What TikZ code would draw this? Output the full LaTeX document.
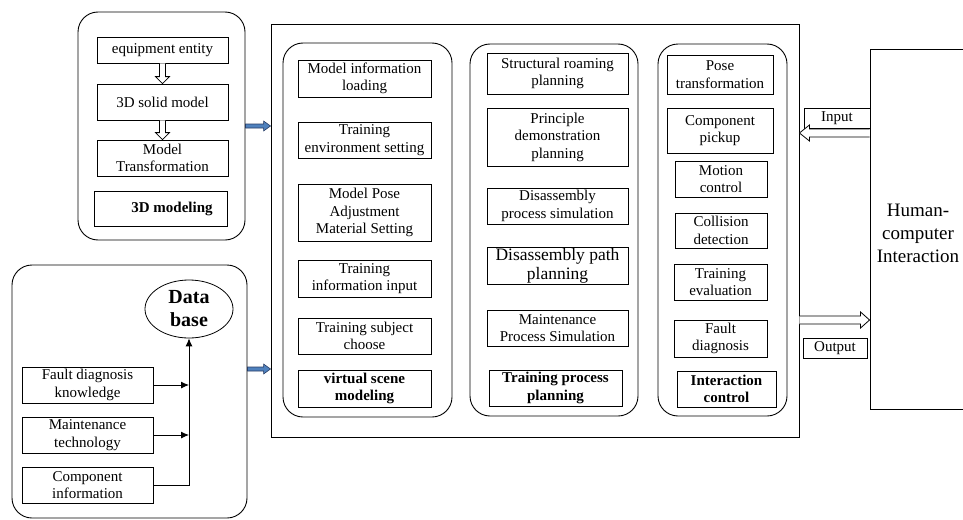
\documentclass[tikz,border=0pt]{standalone}
\usepackage{fontspec}
\setmainfont{Liberation Serif}
\usetikzlibrary{calc,arrows.meta,shapes.geometric}
\definecolor{myblue}{RGB}{79,129,189}
\definecolor{bluedark}{RGB}{40,60,100}
\begin{document}
\begin{tikzpicture}[x=1pt,y=-1pt,
 box/.style={draw, line width=0.8pt, fill=white, align=center, inner sep=1pt, font=\fontsize{15}{17.5}\selectfont},
 bbox/.style={box, font=\bfseries\fontsize{15}{17.5}\selectfont},
 grp/.style={draw, line width=0.9pt, rounded corners=20pt},
 hollow/.style={draw, line width=0.8pt, fill=white, line join=miter},
 bluearr/.style={draw=bluedark, fill=myblue, line width=0.6pt},
 conn/.style={line width=0.9pt, -{Latex[length=8pt,width=7pt]}}]
\clip (0,0) rectangle (963,519);
\fill[white] (0,0) rectangle (963,519);

% ---- top-left group: 3D modeling
\node[grp, minimum width=167pt, minimum height=228pt] (g1) at (161.5,126) {};
\node[box, minimum width=131pt, minimum height=26pt] (ent) at (162.5,50) {equipment entity};
\node[box, minimum width=131pt, minimum height=36pt] (solid) at (162.5,102) {3D solid model};
\node[box, minimum width=131pt, minimum height=36pt] (trans) at (162.5,158) {Model\\Transformation};
\node[bbox, minimum width=133pt, minimum height=35pt] (mod3d) at (160.5,208.5) {\hspace*{23pt}3D modeling};

\draw[hollow] ($(ent.south)+(-3,0)$) -- ($(solid.north)+(-3,-7)$) -- ($(solid.north)+(-7,-7)$) -- (solid.north) -- ($(solid.north)+(7,-7)$) -- ($(solid.north)+(3,-7)$) -- ($(ent.south)+(3,0)$);
\draw[hollow] ($(solid.south)+(-3,0)$) -- ($(trans.north)+(-3,-7)$) -- ($(trans.north)+(-7,-7)$) -- (trans.north) -- ($(trans.north)+(7,-7)$) -- ($(trans.north)+(3,-7)$) -- ($(solid.south)+(3,0)$);

% ---- bottom-left group: database
\node[grp, minimum width=235pt, minimum height=253pt] (g2) at (129.5,391.5) {};
\node[draw, line width=0.8pt, ellipse, minimum width=88pt, minimum height=58pt, inner sep=0pt, align=center, font=\bfseries\fontsize{20}{23}\selectfont] (db) at (189,309) {Data\\base};
\node[box, minimum width=131pt, minimum height=36pt] (fdk) at (87.5,385) {Fault diagnosis\\knowledge};
\node[box, minimum width=131pt, minimum height=36pt] (mt) at (87.5,435) {Maintenance\\technology};
\node[box, minimum width=131pt, minimum height=36pt] (ci) at (87.5,485) {Component\\information};
\coordinate (jx) at (189,0);
\draw[conn] (fdk.east) -- (fdk.east -| jx);
\draw[conn] (mt.east) -- (mt.east -| jx);
\draw[conn] (ci.east) -| (db.south);

% ---- main box
\node[draw, line width=0.9pt, minimum width=528pt, minimum height=413pt] (main) at (535,230.5) {};

% column 1
\node[grp, minimum width=169pt, minimum height=374pt] (c1) at (367.5,230) {};
\node[box, minimum width=133pt, minimum height=37pt] (mil) at (364.5,78.5) {Model information\\loading};
\node[box, minimum width=133pt, minimum height=36pt] (tes) at (364.5,140) {Training\\environment setting};
\node[box, minimum width=133pt, minimum height=57pt] (mpa) at (364.5,212.5) {Model Pose\\Adjustment\\Material Setting};
\node[box, minimum width=133pt, minimum height=37pt] (tii) at (364.5,278.5) {Training\\information input};
\node[box, minimum width=133pt, minimum height=36pt] (tsc) at (364.5,336) {Training subject\\choose};
\node[bbox, minimum width=133pt, minimum height=37pt] (vsm) at (364.5,388.5) {virtual scene\\modeling};

% column 2
\node[grp, minimum width=168pt, minimum height=372pt] (c2) at (554,230) {};
\node[box, minimum width=141pt, minimum height=41pt] (srp) at (557.5,73.5) {Structural roaming\\planning};
\node[box, minimum width=141pt, minimum height=58pt] (pdp) at (557.5,137) {Principle\\demonstration\\planning};
\node[box, minimum width=141pt, minimum height=36pt] (dps) at (557.5,206) {Disassembly\\process simulation};
\node[box, minimum width=141pt, minimum height=37pt, font=\fontsize{17.5}{19}\selectfont] (dpp) at (557.5,265.5) {Disassembly path\\planning};
\node[box, minimum width=141pt, minimum height=36pt] (mps) at (557.5,328) {Maintenance\\Process Simulation};
\node[bbox, minimum width=133pt, minimum height=36pt] (tpp) at (555.5,388) {Training process\\planning};

% column 3
\node[grp, minimum width=129pt, minimum height=372pt] (c3) at (722.5,230) {};
\node[box, minimum width=106pt, minimum height=39pt] (pt) at (720,74.5) {Pose\\transformation};
\node[box, minimum width=106pt, minimum height=45pt] (cp) at (720,130.5) {Component\\pickup};
\node[box, minimum width=92pt, minimum height=36pt] (mc) at (721,179) {Motion\\control};
\node[box, minimum width=92pt, minimum height=35pt] (cd) at (721,230.5) {Collision\\detection};
\node[box, minimum width=93pt, minimum height=36pt] (te) at (720.5,282) {Training\\evaluation};
\node[box, minimum width=93pt, minimum height=37pt] (fd) at (720.5,338.5) {Fault\\diagnosis};
\node[bbox, minimum width=99pt, minimum height=36pt] (ic) at (726.5,389) {Interaction\\control};

% ---- Human-computer interaction
\node[draw, line width=0.9pt, minimum width=110pt, minimum height=360pt] (hci) at (925,229) {};
\node[align=center, inner sep=0pt, font=\fontsize{19}{23}\selectfont] (hcit) at (918,233) {Human-\\computer\\Interaction};
\node[box, minimum width=66pt, minimum height=20pt] (inp) at (837,118) {Input};
\node[box, minimum width=64pt, minimum height=20pt] (outp) at (835,348) {Output};

% input arrow (leftwards)
\coordinate (iny) at (0,133);
\coordinate (inT) at (main.east |- iny);
\coordinate (inS) at (hci.west |- iny);
\draw[hollow] ($(inS)+(0,-4)$) -- ($(inT)+(10,-4)$) -- ($(inT)+(10,-8)$) -- (inT) -- ($(inT)+(10,8)$) -- ($(inT)+(10,4)$) -- ($(inS)+(0,4)$);
% output arrow (rightwards)
\coordinate (outy) at (0,320);
\coordinate (outS) at (main.east |- outy);
\coordinate (outT) at (hci.west |- outy);
\draw[hollow] ($(outS)+(0,-4)$) -- ($(outT)+(-9,-4)$) -- ($(outT)+(-9,-8)$) -- (outT) -- ($(outT)+(-9,8)$) -- ($(outT)+(-9,4)$) -- ($(outS)+(0,4)$);

% ---- blue arrows into main box
\coordinate (b1s) at (g1.east);
\coordinate (b1e) at (main.west |- g1.east);
\draw[bluearr] ($(b1s)+(0,-2)$) -- ($(b1e)+(-7,-2)$) -- ($(b1e)+(-7,-5)$) -- (b1e) -- ($(b1e)+(-7,5)$) -- ($(b1e)+(-7,2)$) -- ($(b1s)+(0,2)$) -- cycle;
\coordinate (y2) at (0,369);
\coordinate (b2s) at (g2.east |- y2);
\coordinate (b2e) at (main.west |- y2);
\draw[bluearr] ($(b2s)+(0,-2)$) -- ($(b2e)+(-7,-2)$) -- ($(b2e)+(-7,-5)$) -- (b2e) -- ($(b2e)+(-7,5)$) -- ($(b2e)+(-7,2)$) -- ($(b2s)+(0,2)$) -- cycle;
\end{tikzpicture}
\end{document}
